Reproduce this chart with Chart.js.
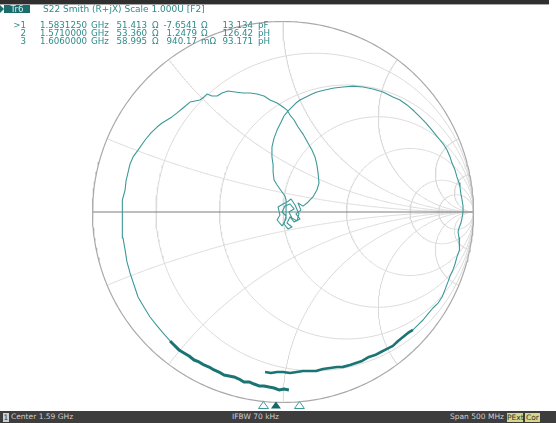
<!DOCTYPE html>
<html lang="en">
  <head>
    <meta charset="UTF-8" />
    <title>S22 Smith</title>
    <style>
      html,
      body {
        margin: 0;
        padding: 0;
        background: #ffffff;
      }

      #wrap {
        position: relative;
        width: 556px;
        height: 423px;
        overflow: hidden;
        font-family: "DejaVu Sans", sans-serif;
        font-size: 8.7px;
        line-height: 8px;
      }

      #chart {
        position: absolute;
        left: 0;
        top: 0;
      }

      .topbar {
        position: absolute;
        left: 0;
        top: 0;
        width: 549px;
        height: 4px;
        background: #2f2f2f;
        border-bottom: 1px solid #a8a8a8;
      }

      .hdr,
      .row span {
        position: absolute;
        color: #2f8a8a;
        white-space: pre;
      }

      .hdr {
        font-size: 9px;
      }

      .tr {
        position: absolute;
        left: 4px;
        top: 5px;
        width: 26px;
        height: 8px;
        background: #1d6c6c;
        color: #d8f0f0;
        text-align: center;
      }

      .tri {
        position: absolute;
        left: 0;
        top: 5px;
        width: 0;
        height: 0;
        border-top: 4px solid transparent;
        border-bottom: 4px solid transparent;
        border-left: 4px solid #1d6c6c;
      }

      .row {
        position: absolute;
        left: 0;
        width: 300px;
        height: 8px;
      }

      .status {
        position: absolute;
        left: 0;
        top: 411px;
        width: 556px;
        height: 12px;
        background: #3d3d3d;
        color: #cfcfcf;
        font-size: 7.5px;
        line-height: 12px;
      }

      .status span {
        position: absolute;
        white-space: pre;
      }

      .status .box {
        top: 2px;
        height: 9px;
        line-height: 9px;
        color: #333333;
        text-align: center;
      }
    </style>
  </head>
  <body>
    <div id="wrap">
      <canvas id="chart" width="556" height="423"></canvas>
      <div class="topbar"></div>
      <div class="tri"></div>
      <div class="tr">Tr6</div>
      <div class="hdr" id="title" style="left: 43px; top: 5px"></div>
      <div id="markers"></div>
      <div class="status">
        <span class="box" style="left: 3px; width: 6px; background: #d0d0d0">1</span>
        <span style="left: 11px">Center 1.59 GHz</span>
        <span style="left: 232px">IFBW 70 kHz</span>
        <span style="right: 52px">Span 500 MHz</span>
        <span class="box" style="left: 507px; width: 16px; background: #d6d68c">PExt</span>
        <span class="box" style="left: 525px; width: 15px; background: #d6d68c">Cor</span>
      </div>
    </div>

    <script src="https://cdn.jsdelivr.net/npm/chart.js@4.4.0/dist/chart.umd.min.js"></script>
    <script>
      const TITLE = "S22 Smith (R+jX) Scale 1.000U [F2]";

      // marker readout (as shown on the instrument)
      const MARKER_LABEL = [">1", "2", "3"];
      const MARKER_FREQ = ["1.5831250", "1.5710000", "1.6060000"];
      const MARKER_R = ["51.413", "53.360", "58.995"];
      const MARKER_X = ["-7.6541", "1.2479", "940.17"];
      const MARKER_X_UNIT = ["Ω", "Ω", "mΩ"];
      const MARKER_LC = ["13.134", "126.42", "93.171"];
      const MARKER_LC_UNIT = ["pF", "pH", "pH"];
      const MARKER_GHZ = [1.583125, 1.571, 1.606];
      const ACTIVE_MARKER = 0;

      // stimulus
      const START_GHZ = 1.34;
      const SPAN_GHZ = 0.5;

      // smith grid values
      const R_GRID = [0.2, 0.5, 1, 2, 5, 10];
      const X_GRID = [0.2, 0.5, 1, 2, 5, 10];

      // trace, reflection coefficient (re, im)
      // sweep start: noisy band low in the chart
      const startRe = [0.031, 0.005, -0.021, -0.047, -0.073, -0.1, -0.126, -0.152, -0.178, -0.205, -0.231, -0.257, -0.283,
        -0.31, -0.336, -0.362, -0.388, -0.415, -0.441, -0.467, -0.493, -0.52, -0.546, -0.572, -0.593];
      const startIm = [-0.934, -0.929, -0.934, -0.924, -0.919, -0.913, -0.913, -0.903, -0.892, -0.892, -0.877, -0.866, -0.861,
        -0.856, -0.84, -0.829, -0.814, -0.803, -0.787, -0.777, -0.756, -0.74, -0.724, -0.698, -0.677];

      // middle of the sweep: left arc, inner loop, cluster, right arc
      const midRe = [-0.593, -0.63, -0.661, -0.698, -0.73, -0.761, -0.782, -0.803, -0.819, -0.829, -0.84, -0.845, -0.845,
        -0.84, -0.829, -0.824, -0.814, -0.803, -0.787, -0.761, -0.724, -0.693, -0.661, -0.635, -0.609, -0.583, -0.556,
        -0.525, -0.488, -0.462, -0.436, -0.415, -0.399, -0.373, -0.346, -0.32, -0.289, -0.252, -0.21, -0.173, -0.136,
        -0.1, -0.068, -0.031, 0, 0.021, 0.037, 0.058, 0.079, 0.105, 0.131, 0.152, 0.168, 0.178, 0.184, 0.189, 0.178,
        0.157, 0.126,
        0.105, 0.079, 0.094, 0.068, 0.089, 0.058, 0.037, 0.021, 0.047, 0.026, 0.005, 0.016, -0.005, 0.01, 0.037, 0.058,
        0.031, 0.047, 0.073, 0.084, 0.063, 0.042, 0.021, 0, -0.026, -0.016, -0.031, -0.005, 0.016, 0.016,
        0.01, -0.005, -0.031, -0.047, -0.052, -0.052, -0.058, -0.058, -0.047, -0.031, -0.01, 0.005, 0.026, 0.047, 0.068,
        0.089, 0.121, 0.152, 0.178, 0.22, 0.268, 0.315, 0.367, 0.42, 0.472, 0.525, 0.577, 0.614, 0.651, 0.688, 0.719,
        0.751, 0.782, 0.803, 0.824, 0.845, 0.861, 0.877, 0.887, 0.903, 0.913, 0.924, 0.929, 0.934, 0.94, 0.945, 0.945,
        0.94, 0.934, 0.924, 0.919, 0.924, 0.929, 0.924, 0.913, 0.903, 0.892, 0.877, 0.866, 0.85, 0.835, 0.814, 0.787,
        0.761, 0.735, 0.709, 0.682];
      const midIm = [-0.677, -0.635, -0.598, -0.551, -0.499, -0.446, -0.383, -0.32, -0.262, -0.199, -0.136, -0.068, 0,
        0.063, 0.115, 0.163, 0.205, 0.252, 0.289, 0.325, 0.378, 0.415, 0.446, 0.467, 0.483, 0.499, 0.52,
        0.546, 0.577, 0.583, 0.588, 0.604, 0.619, 0.609, 0.609, 0.625, 0.635, 0.63, 0.625, 0.625, 0.619,
        0.609, 0.588, 0.572, 0.551, 0.535, 0.509, 0.483, 0.446, 0.409, 0.362, 0.325, 0.289, 0.247, 0.205, 0.152, 0.115,
        0.079, 0.047,
        0.031, 0.047, 0.01, -0.01, -0.037, -0.052, -0.026, -0.058, -0.079, -0.089, -0.063, -0.021, 0, 0.031, 0.042, 0.016,
        0, -0.031, -0.047, -0.01, 0.037, 0.068, 0.052, 0.042, 0.026, -0.016, -0.042, -0.073, -0.037, 0.063,
        0.084, 0.105, 0.142, 0.168, 0.21, 0.247, 0.289, 0.341, 0.388, 0.43, 0.472, 0.504, 0.53, 0.551, 0.572,
        0.588, 0.604, 0.619, 0.63, 0.64, 0.651, 0.656, 0.661, 0.656, 0.646, 0.63, 0.604, 0.588, 0.562, 0.53, 0.499,
        0.467, 0.43, 0.404, 0.378, 0.352, 0.325, 0.289, 0.257, 0.22, 0.184, 0.152, 0.131, 0.094, 0.063, 0.031, 0,
        -0.031, -0.058, -0.084, -0.105, -0.136, -0.163, -0.199, -0.236, -0.273, -0.304, -0.336, -0.367, -0.409, -0.446,
        -0.478, -0.504, -0.535, -0.567, -0.593, -0.619];

      // sweep end: noisy band coming back in from the right
      const endRe = [0.682, 0.656, 0.63, 0.604, 0.577, 0.546, 0.514, 0.483, 0.451, 0.415, 0.383, 0.352, 0.315, 0.283, 0.247,
        0.21, 0.173, 0.142, 0.105, 0.073, 0.037, 0, -0.031, -0.063, -0.094];
      const endIm = [-0.619, -0.635, -0.656, -0.677, -0.703, -0.719, -0.735, -0.751, -0.761, -0.782, -0.793, -0.803, -0.813,
        -0.814, -0.819, -0.824, -0.835, -0.835, -0.835, -0.84, -0.845, -0.84, -0.84, -0.845, -0.84];

      const TRACE_THIN = "#3d9999";
      const TRACE_NOISY = "#1a7474";

      document.title = TITLE;
      document.getElementById("title").textContent = TITLE;

      // marker table
      const markers = document.getElementById("markers");
      MARKER_FREQ.forEach((f, i) => {
        const row = document.createElement("div");
        row.className = "row";
        row.style.top = 21 + i * 8 + "px";
        const cells = [
          [MARKER_LABEL[i], "right", 274],
          [f, "left", 40],
          ["GHz", "left", 91],
          [MARKER_R[i], "right", 153],
          ["Ω", "left", 152],
          [MARKER_X[i], "right", 103],
          [MARKER_X_UNIT[i], "left", 201],
          [MARKER_LC[i], "right", 47],
          [MARKER_LC_UNIT[i], "left", 258],
        ];
        for (const [text, side, pos] of cells) {
          const s = document.createElement("span");
          s.textContent = text;
          s.style[side] = pos + "px";
          row.appendChild(s);
        }
        markers.appendChild(row);
      });

      function gamma(r, x) {
        const d = (r + 1) * (r + 1) + x * x;
        return { x: (r * r + x * x - 1) / d, y: (2 * x) / d };
      }

      function resistanceCircle(r) {
        const c = r / (r + 1);
        const rad = 1 / (r + 1);
        const pts = [];
        for (let i = 0; i <= 360; i++) {
          const a = (i * Math.PI) / 180;
          pts.push({ x: c + rad * Math.cos(a), y: rad * Math.sin(a) });
        }
        return pts;
      }

      function reactanceArc(x) {
        const pts = [];
        for (let i = 0; i < 400; i++) {
          pts.push(gamma(Math.tan((i / 400) * (Math.PI / 2)), x));
        }
        pts.push({ x: 1, y: 0 });
        return pts;
      }

      function pairs(re, im) {
        return re.map((v, i) => ({ x: v, y: im[i] }));
      }

      function line(data, color, width, order) {
        return {
          data,
          showLine: true,
          borderColor: color,
          borderWidth: width,
          pointRadius: 0,
          tension: 0,
          clip: false,
          order,
          borderJoinStyle: "round",
        };
      }

      const datasets = [
        line(pairs(startRe, startIm), TRACE_NOISY, 3, 0),
        line(pairs(midRe, midIm), TRACE_THIN, 1.1, 0),
        line(pairs(endRe, endIm), TRACE_NOISY, 2.6, 0),
      ];
      for (const r of R_GRID) datasets.push(line(resistanceCircle(r), "#dadada", 1, 2));
      for (const x of X_GRID) {
        datasets.push(line(reactanceArc(x), "#dadada", 1, 2));
        datasets.push(line(reactanceArc(-x), "#dadada", 1, 2));
      }
      datasets.push(line(resistanceCircle(0), "#a9a9a9", 1.2, 1));
      datasets.push(line([{ x: -1, y: 0 }, { x: 1, y: 0 }], "#7c7c7c", 1, 1));

      // marker stimulus triangles under the chart
      const stimulusMarks = {
        id: "stimulusMarks",
        afterDraw(chart) {
          const ctx = chart.ctx;
          const x0 = 26;
          const w = 514;
          MARKER_GHZ.forEach((f, i) => {
            const cx = x0 + ((f - START_GHZ) / SPAN_GHZ) * w;
            ctx.beginPath();
            ctx.moveTo(cx, 401.5);
            ctx.lineTo(cx - 5, 408.5);
            ctx.lineTo(cx + 5, 408.5);
            ctx.closePath();
            if (i === ACTIVE_MARKER) {
              ctx.fillStyle = "#126a6a";
              ctx.fill();
            } else {
              ctx.fillStyle = "#ffffff";
              ctx.fill();
              ctx.strokeStyle = "#3d9999";
              ctx.lineWidth = 1;
              ctx.stroke();
            }
          });
        },
      };

      new Chart(document.getElementById("chart"), {
        type: "scatter",
        data: { datasets },
        options: {
          responsive: false,
          animation: false,
          events: [],
          layout: { padding: { left: 92.5, right: 82.5, top: 21.5, bottom: 20.5 } },
          plugins: { legend: { display: false }, tooltip: { enabled: false } },
          scales: {
            x: { type: "linear", min: -1, max: 1, display: false },
            y: { type: "linear", min: -1, max: 1, display: false },
          },
        },
        plugins: [stimulusMarks],
      });
    </script>
  </body>
</html>
